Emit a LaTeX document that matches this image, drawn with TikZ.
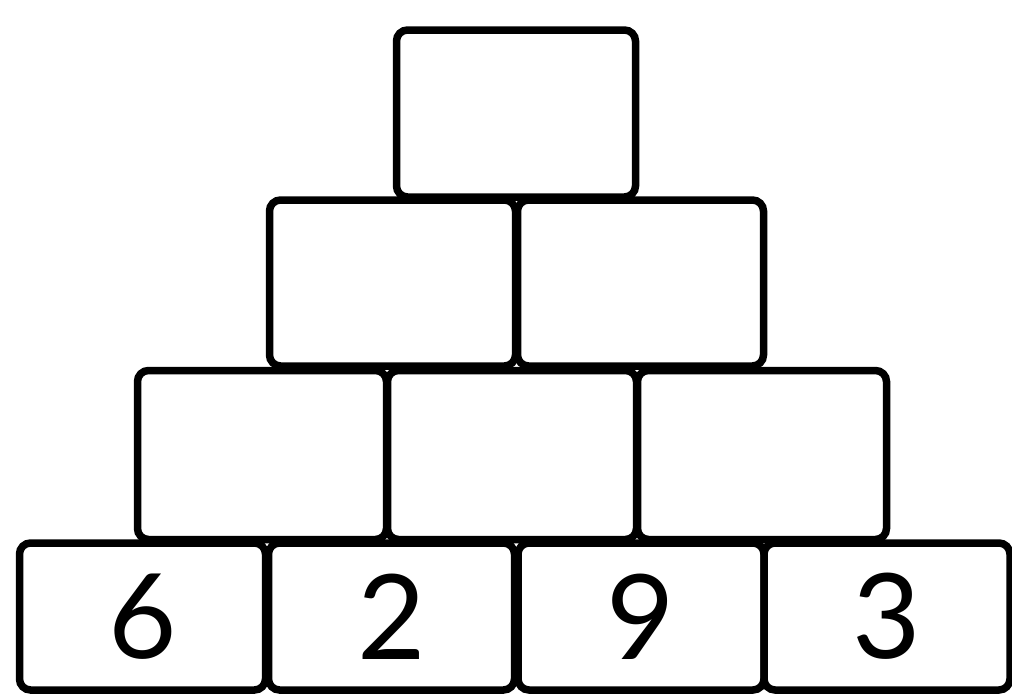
\documentclass[tikz,border=0pt]{standalone}
\usepackage{fontspec}
\setmainfont{Lato}
\begin{document}
\begin{tikzpicture}[x=1pt,y=-1pt,
  brick/.style={draw=black, line width=7.5pt, rounded corners=11pt, fill=white,
    inner sep=0pt, minimum width=#1, font=\fontsize{118}{118}\selectfont},
  brick/.default=246pt,
  r4/.style={brick=246pt, minimum height=147pt},
  r3/.style={brick=249pt, minimum height=169pt},
  r2/.style={brick=246pt, minimum height=166pt},
  r1/.style={brick=239pt, minimum height=167pt}]
\useasboundingbox (0,0) rectangle (1012,694);
% top
\node[r1] (t) at (516,113.5) {};
% row 2
\node[r2] (b1) at (392.5,283) {};
\node[r2] (b2) at (640.5,283) {};
% row 3
\node[r3] (c1) at (262,455) {};
\node[r3] (c2) at (512,455) {};
\node[r3] (c3) at (762,455) {};
% row 4
\node[r4] (d1) at (142.5,616.5) {6};
\node[r4] (d2) at (391.5,616.5) {2};
\node[r4] (d3) at (641,616.5) {9};
\node[r4] (d4) at (887,616.5) {3};
\end{tikzpicture}
\end{document}
